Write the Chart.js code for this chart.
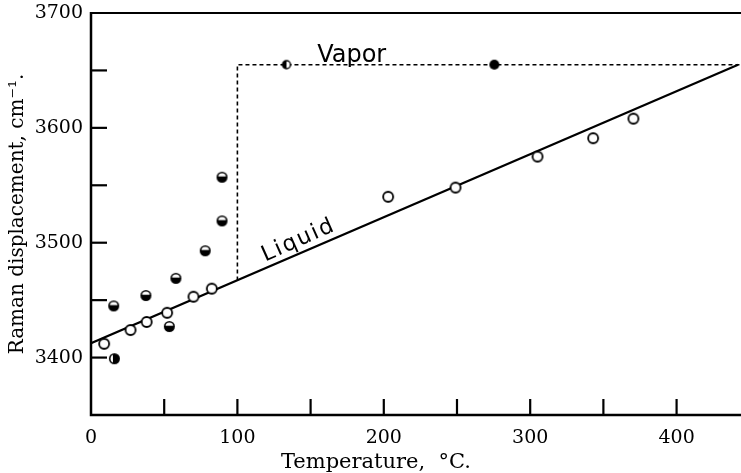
<!DOCTYPE html>
<html>
<head>
<meta charset="utf-8">
<title>Raman displacement vs temperature</title>
<script src="https://cdn.jsdelivr.net/npm/chart.js@4.4.1/dist/chart.umd.min.js"></script>
<style>
  html, body { margin: 0; padding: 0; background: #fff; }
  #wrap { width: 741px; height: 473px; position: relative; }
</style>
</head>
<body>
<div id="wrap"><canvas id="raman"></canvas></div>
<script>
// liquid water, open circles
const liquidT = [9, 27, 38, 52, 70, 82.5, 203, 249, 305, 343, 370.5];
const liquidRaman = [3412, 3424, 3431, 3439, 3453, 3460, 3540, 3548, 3575, 3591, 3608];

// half-filled circles below 100 °C
const halfT = [15.5, 16, 37.5, 53.5, 58, 78, 89.5, 89.5];
const halfRaman = [3445, 3399, 3454, 3427, 3469, 3493, 3519, 3557];

// vapor points
const vaporT = [133.5, 275.5];
const vaporRaman = [3655, 3655];

// straight line through the liquid points
const fitT = [0, 442];
const fitRaman = [3412.5, 3655];

// dashed boundary: step at the boiling point, then the vapor level
const boundT = [100, 100, 444];
const boundRaman = [3467, 3655, 3655];

const xTicks = [0, 100, 200, 300, 400];
const yTicks = [3400, 3500, 3600, 3700];

const SERIF = "'DejaVu Serif', 'Liberation Serif', serif";
const HAND = "'DejaVu Sans', sans-serif";

function pts(xs, ys) {
  return xs.map((x, i) => ({ x: x, y: ys[i] }));
}

// small canvases used as point glyphs
function circleGlyph(r, paint) {
  const size = Math.ceil(r * 2 + 4);
  const c = document.createElement('canvas');
  c.width = size; c.height = size;
  const g = c.getContext('2d');
  const m = size / 2;
  paint(g, m, r);
  return c;
}

const openDot = circleGlyph(5, (g, m, r) => {
  g.beginPath(); g.arc(m, m, r, 0, Math.PI * 2);
  g.fillStyle = '#fff'; g.fill();
  g.lineWidth = 1.8; g.strokeStyle = '#000'; g.stroke();
});

const halfTop = circleGlyph(5.5, (g, m, r) => {
  g.beginPath(); g.arc(m, m, r, 0, Math.PI * 2);
  g.fillStyle = '#000'; g.fill();
  g.save();
  g.beginPath(); g.arc(m, m, r - 1.6, 0, Math.PI * 2); g.clip();
  g.fillStyle = '#fff'; g.fillRect(0, 0, m * 2, m - 0.8);
  g.restore();
});

const halfLeft = circleGlyph(5.5, (g, m, r) => {
  g.beginPath(); g.arc(m, m, r, 0, Math.PI * 2);
  g.fillStyle = '#000'; g.fill();
  g.save();
  g.beginPath(); g.arc(m, m, r - 1.6, 0, Math.PI * 2); g.clip();
  g.fillStyle = '#fff'; g.fillRect(0, 0, m - 1.5, m * 2);
  g.restore();
});

const vaporHalf = circleGlyph(4, (g, m, r) => {
  g.beginPath(); g.arc(m, m, r, 0, Math.PI * 2);
  g.fillStyle = '#fff'; g.fill();
  g.beginPath(); g.arc(m, m, r, Math.PI / 2, Math.PI * 1.5);
  g.fillStyle = '#000'; g.fill();
  g.beginPath(); g.arc(m, m, r, 0, Math.PI * 2);
  g.lineWidth = 1.4; g.strokeStyle = '#000'; g.stroke();
});

const vaporFull = circleGlyph(5, (g, m, r) => {
  g.beginPath(); g.arc(m, m, r, 0, Math.PI * 2);
  g.fillStyle = '#000'; g.fill();
});

// frame, inward tick marks, axis titles and the phase labels
const decorations = {
  id: 'decorations',
  afterDraw(chart) {
    const ctx = chart.ctx;
    const a = chart.chartArea;
    const xs = chart.scales.x;
    const ys = chart.scales.y;
    ctx.save();
    ctx.strokeStyle = '#000';

    // frame: left, bottom, top
    ctx.lineWidth = 2.5;
    ctx.beginPath();
    ctx.moveTo(a.left, a.top - 1); ctx.lineTo(a.left, a.bottom);
    ctx.lineTo(a.right, a.bottom);
    ctx.stroke();
    ctx.lineWidth = 2;
    ctx.beginPath();
    ctx.moveTo(a.left, a.top); ctx.lineTo(a.right, a.top);
    ctx.stroke();

    // tick marks every 50 units, pointing into the plot
    ctx.lineWidth = 2.2;
    xs.ticks.forEach(t => {
      if (t.value % 50 !== 0 || t.value === 0) return;
      const px = xs.getPixelForValue(t.value);
      ctx.beginPath(); ctx.moveTo(px, a.bottom); ctx.lineTo(px, a.bottom - 16); ctx.stroke();
    });
    ys.ticks.forEach(t => {
      if (t.value % 50 !== 0 || t.value === ys.min || t.value === ys.max) return;
      const py = ys.getPixelForValue(t.value);
      ctx.beginPath(); ctx.moveTo(a.left, py); ctx.lineTo(a.left + 16, py); ctx.stroke();
    });

    ctx.fillStyle = '#000';
    ctx.textAlign = 'center';
    ctx.textBaseline = 'middle';
    ctx.font = '21px ' + SERIF;
    ctx.fillText('Temperature,  \u00B0C.', 376, 463);

    ctx.save();
    ctx.translate(18, (a.top + a.bottom) / 2);
    ctx.rotate(-Math.PI / 2);
    ctx.font = '20px ' + SERIF;
    ctx.fillText('Raman displacement, cm\u207B\u00B9.', 0, 0);
    ctx.restore();

    // hand-lettered phase labels
    ctx.textAlign = 'left';
    ctx.textBaseline = 'alphabetic';
    ctx.font = '24px ' + HAND;
    ctx.fillText('Vapor', xs.getPixelForValue(154.5), ys.getPixelForValue(3657));

    ctx.save();
    ctx.translate(xs.getPixelForValue(119), ys.getPixelForValue(3483.5));
    ctx.rotate(-24 * Math.PI / 180);
    ctx.font = '22px ' + HAND;
    ctx.letterSpacing = '2px';
    ctx.fillText('Liquid', 0, 0);
    ctx.restore();

    ctx.restore();
  }
};

new Chart(document.getElementById('raman'), {
  type: 'scatter',
  data: {
    datasets: [
      {
        label: 'Vapor',
        data: pts(vaporT, vaporRaman),
        pointStyle: [vaporHalf, vaporFull],
        pointRadius: 5
      },
      {
        label: 'Half-filled',
        data: pts(halfT, halfRaman),
        pointStyle: halfT.map((t, i) => i === 1 ? halfLeft : halfTop),
        pointRadius: 6
      },
      {
        label: 'Liquid',
        data: pts(liquidT, liquidRaman),
        pointStyle: openDot,
        pointRadius: 6
      },
      {
        label: 'Liquid line',
        data: pts(fitT, fitRaman),
        showLine: true,
        borderColor: '#000',
        borderWidth: 2.2,
        pointRadius: 0
      },
      {
        label: 'Boundary',
        data: pts(boundT, boundRaman),
        showLine: true,
        borderColor: '#000',
        borderWidth: 1.6,
        borderDash: [4, 3],
        pointRadius: 0
      }
    ]
  },
  options: {
    responsive: true,
    maintainAspectRatio: false,
    animation: false,
    layout: { autoPadding: false, padding: { top: 13, right: 0, left: 0, bottom: 0 } },
    plugins: {
      legend: { display: false },
      tooltip: { enabled: false }
    },
    scales: {
      x: {
        type: 'linear',
        min: 0,
        max: 444,
        afterFit: s => { s.height = 58; s.paddingLeft = 0; s.paddingRight = 0; },
        grid: { display: false, drawTicks: false },
        border: { display: false },
        ticks: {
          stepSize: 50,
          padding: 12,
          color: '#000',
          font: { family: SERIF, size: 19 },
          autoSkip: false,
          maxRotation: 0,
          callback: v => xTicks.includes(v) ? String(v) : ''
        }
      },
      y: {
        type: 'linear',
        min: 3350,
        max: 3700,
        afterFit: s => { s.width = 91; s.paddingTop = 0; s.paddingBottom = 0; },
        grid: { display: false, drawTicks: false },
        border: { display: false },
        ticks: {
          stepSize: 50,
          padding: 8,
          color: '#000',
          font: { family: SERIF, size: 19 },
          autoSkip: false,
          callback: v => yTicks.includes(v) ? String(v) : ''
        }
      }
    }
  },
  plugins: [decorations]
});
</script>
</body>
</html>
